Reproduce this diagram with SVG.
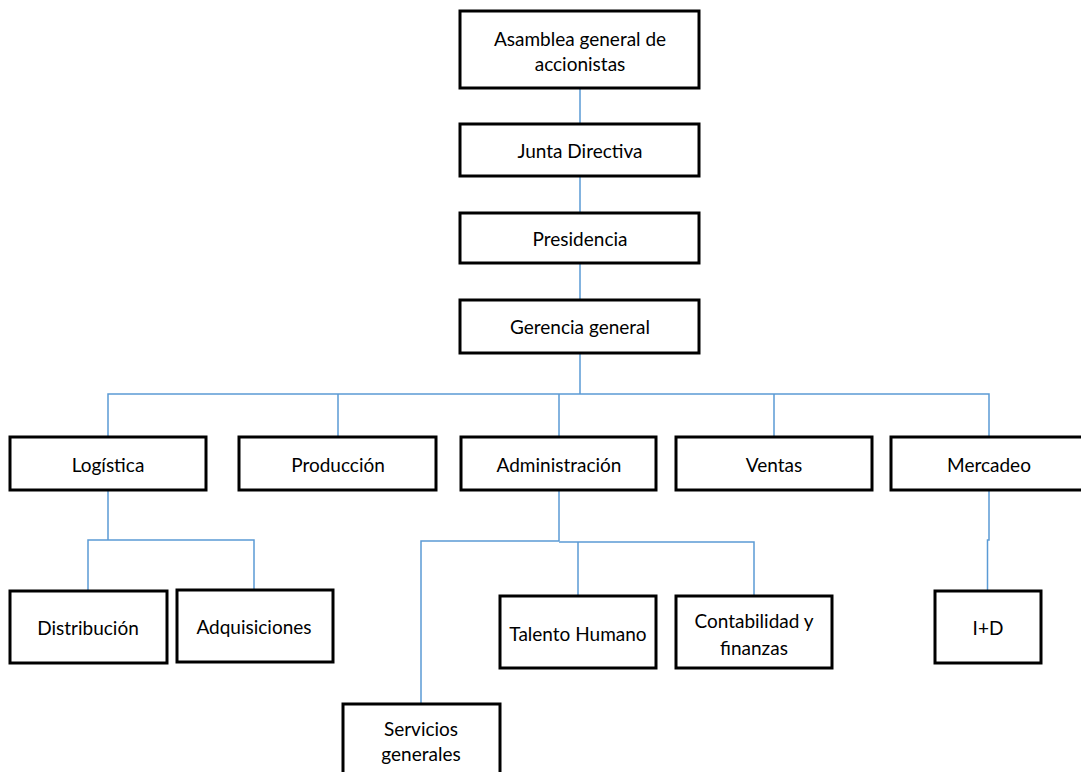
<svg xmlns="http://www.w3.org/2000/svg" width="1081" height="772" viewBox="0 0 1081 772">
<style>
.box{fill:#fff;stroke:#000;stroke-width:3}
.t{font-family:Lato,"Liberation Sans",sans-serif;font-size:19px;fill:#000;text-anchor:middle;dominant-baseline:central}
.c{fill:none;stroke:#5B9BD5;stroke-width:1.5}
</style>
<rect width="1081" height="772" fill="#fff"/>
<g id="connectors">
<path class="c" d="M580 88V124M580 176V213M580 263V300M580 353V394"/>
<path class="c" d="M108 437V394H989V437M338 394V437M559 394V437M774 394V437"/>
<path class="c" d="M108 490V540M88 590V540H254V590"/>
<path class="c" d="M559 490V541M421 704V541H559M559 542H754V596M578 542V596"/>
<path class="c" d="M989 490V540H987.5V591"/>
</g>
<g id="n1"><rect class="box" x="460" y="11" width="239" height="77"/><text class="t" x="580" y="38">Asamblea general de</text><text class="t" x="580" y="63">accionistas</text></g>
<g id="n2"><rect class="box" x="460" y="124" width="239" height="52"/><text class="t" x="580" y="150">Junta Directiva</text></g>
<g id="n3"><rect class="box" x="460" y="213" width="239" height="50"/><text class="t" x="580" y="238">Presidencia</text></g>
<g id="n4"><rect class="box" x="460" y="300" width="239" height="53"/><text class="t" x="580" y="326">Gerencia general</text></g>
<g id="n5"><rect class="box" x="10" y="437" width="196" height="53"/><text class="t" x="108" y="464">Logística</text></g>
<g id="n6"><rect class="box" x="239" y="437" width="197" height="53"/><text class="t" x="338" y="464">Producción</text></g>
<g id="n7"><rect class="box" x="461" y="437" width="195" height="53"/><text class="t" x="559" y="464">Administración</text></g>
<g id="n8"><rect class="box" x="676" y="437" width="196" height="53"/><text class="t" x="774" y="464">Ventas</text></g>
<g id="n9"><rect class="box" x="891" y="437" width="200" height="53"/><text class="t" x="989" y="464">Mercadeo</text></g>
<g id="n10"><rect class="box" x="10" y="591" width="157" height="72"/><text class="t" x="88" y="627">Distribución</text></g>
<g id="n11"><rect class="box" x="177" y="590" width="156" height="72"/><text class="t" x="254" y="626">Adquisiciones</text></g>
<g id="n12"><rect class="box" x="500" y="596" width="156" height="72"/><text class="t" x="578" y="633">Talento Humano</text></g>
<g id="n13"><rect class="box" x="676" y="596" width="156" height="72"/><text class="t" x="754" y="620">Contabilidad y</text><text class="t" x="754" y="647">finanzas</text></g>
<g id="n14"><rect class="box" x="935" y="591" width="106" height="72"/><text class="t" x="988" y="627">I+D</text></g>
<g id="n15"><rect class="box" x="343" y="704" width="157" height="80"/><text class="t" x="421" y="728">Servicios</text><text class="t" x="421" y="753">generales</text></g>
</svg>
